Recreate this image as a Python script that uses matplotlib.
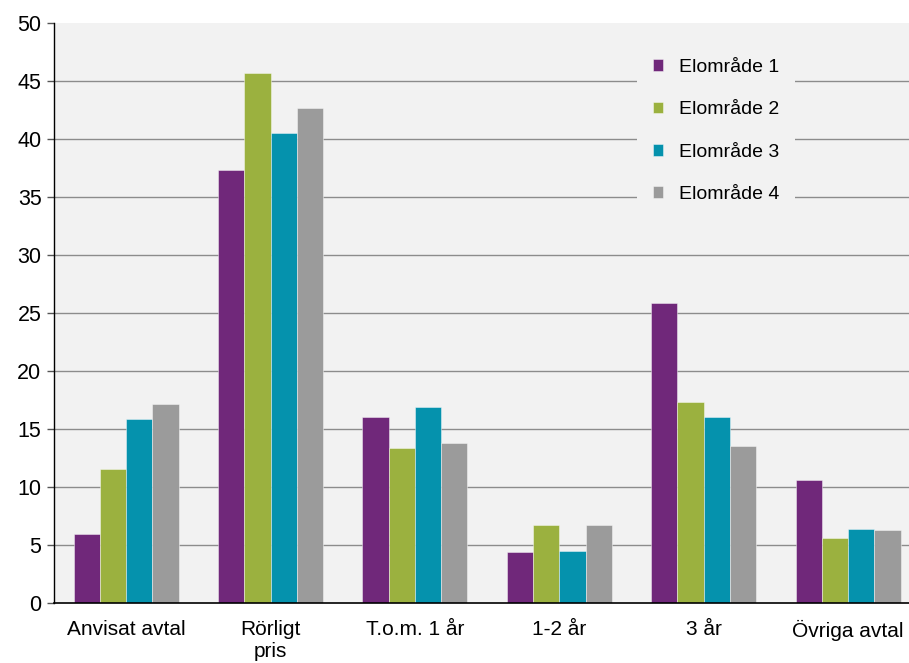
import matplotlib
matplotlib.use("Agg")
import matplotlib.pyplot as plt
import numpy as np

plt.rcParams['font.family'] = ['Liberation Sans', 'DejaVu Sans']

categories = ["Anvisat avtal", "Rörligt\npris", "T.o.m. 1 år", "1-2 år", "3 år", "Övriga avtal"]
series_names = ["Elområde 1", "Elområde 2", "Elområde 3", "Elområde 4"]
elomrade1 = [5.95, 37.3, 16.0, 4.4, 25.9, 10.6]
elomrade2 = [11.55, 45.7, 13.4, 6.7, 17.3, 5.6]
elomrade3 = [15.85, 40.5, 16.9, 4.5, 16.0, 6.4]
elomrade4 = [17.15, 42.7, 13.8, 6.7, 13.5, 6.3]
yticks = [0, 5, 10, 15, 20, 25, 30, 35, 40, 45, 50]

colors = ["#70287A", "#9BB13F", "#0592AD", "#9B9B9B"]
series = [elomrade1, elomrade2, elomrade3, elomrade4]

fig = plt.figure(figsize=(9.09, 6.63), dpi=100)
ax = fig.add_axes([0.0594, 0.0905, 0.953, 0.8745])
ax.set_facecolor("#F2F2F2")

x = np.arange(len(categories))
w = 0.182
for i, (vals, c, name) in enumerate(zip(series, colors, series_names)):
    ax.bar(x + (i - 1.5) * w, vals, width=w, color=c, label=name,
           edgecolor=(1, 1, 1, 0.5), linewidth=0.6, zorder=3)

ax.set_xlim(-0.5, len(categories) - 0.5)
ax.set_ylim(0, 50)
ax.set_yticks(yticks)
ax.set_xticks(x)
ax.set_xticklabels(categories, fontsize=15, linespacing=1.2)
ax.tick_params(axis='x', length=0, pad=12)
ax.tick_params(axis='y', length=5, width=1, labelsize=15.5, pad=4, color='#555555')

for v in yticks[1:-1]:
    ax.axhline(v, color="#8C8C8C", linewidth=1.0, zorder=1)

for s in ["top", "right"]:
    ax.spines[s].set_visible(False)
ax.spines["left"].set_color("black")
ax.spines["bottom"].set_color("black")
ax.spines["left"].set_linewidth(1.0)
ax.spines["bottom"].set_linewidth(1.2)
ax.spines["bottom"].set_zorder(4)

leg = ax.legend(loc="upper left", bbox_to_anchor=(0.673, 0.965), frameon=True,
                fontsize=14, handlelength=0.55, handleheight=0.55,
                labelspacing=1.3, handletextpad=0.8, borderpad=0.8,
                borderaxespad=0, fancybox=False)
leg.get_frame().set_facecolor("#F2F2F2")
leg.get_frame().set_edgecolor("none")
leg.get_frame().set_alpha(1)
leg.set_zorder(5)

fig.savefig("out.png", dpi=100)
